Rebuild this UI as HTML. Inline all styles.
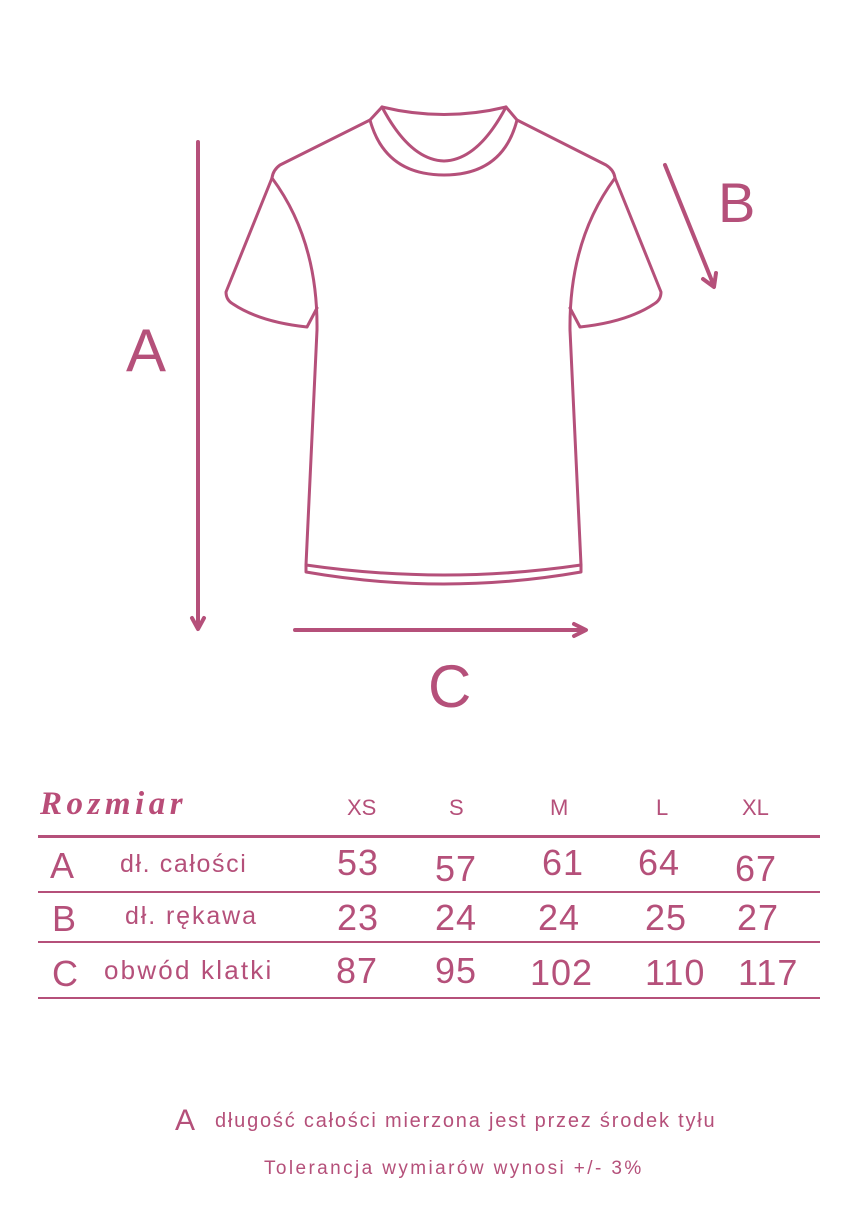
<!DOCTYPE html>
<html><head><meta charset="utf-8"><style>
body{margin:0;background:#fff;width:850px;height:1207px;overflow:hidden;position:relative;font-family:"Liberation Sans",sans-serif;color:#b5507a}
.t{position:absolute;white-space:nowrap}
.n{font-size:36px;letter-spacing:1px}
</style></head><body>
<svg width="850" height="1207" style="position:absolute;left:0;top:0" fill="none" stroke="#b5507a" stroke-width="3" stroke-linejoin="round" stroke-linecap="round">
<path d="M382,107 Q444,122 506,107"/>
<path d="M382,107 Q410,160 444,161 Q478,160 506,107"/>
<path d="M370,120 Q385,175 444,175 Q503,175 517,120"/>
<path d="M382,107 L370,120 L280,165 Q273,170 272,178 L226,292 Q226,300 233,304 Q260,322 307,327 L317,308"/>
<path d="M506,107 L517,120 L606,165 Q614,170 615,178 L661,292 Q661,300 654,304 Q627,322 580,327 L570,308"/>
<path d="M272,178 Q318,240 317,330 L306,565"/>
<path d="M615,178 Q569,240 570,330 L581,565"/>
<path d="M306,565 Q444,585 581,565 L581,572 Q444,596 306,572 Z"/>
<g stroke-width="4">
<path d="M198,142 L198,628 M192,618 L198,629 L204,618"/>
<path d="M295,630 L585,630 M574,624 L586,630 L574,636"/>
<path d="M665,165 L714,286 M703,279 L714,287 L716,273"/>
</g>
</svg>
<div class="t" style="left:126px;top:316px;font-size:60px">A</div>
<div class="t" style="left:718px;top:170px;font-size:56px">B</div>
<div class="t" style="left:428px;top:652px;font-size:60px">C</div>
<div class="t" style="left:40px;top:786px;font-family:'Liberation Serif',serif;font-style:italic;font-weight:bold;font-size:33px;letter-spacing:4.5px;color:#b94d78">Rozmiar</div>
<div class="t" style="left:347px;top:795px;font-size:22px">XS</div>
<div class="t" style="left:449px;top:795px;font-size:22px">S</div>
<div class="t" style="left:550px;top:795px;font-size:22px">M</div>
<div class="t" style="left:656px;top:795px;font-size:22px">L</div>
<div class="t" style="left:742px;top:795px;font-size:22px">XL</div>
<div style="position:absolute;left:38px;top:835px;width:782px;height:3px;background:#b5507a"></div>
<div style="position:absolute;left:38px;top:891px;width:782px;height:2px;background:#b5507a"></div>
<div style="position:absolute;left:38px;top:941px;width:782px;height:2px;background:#b5507a"></div>
<div style="position:absolute;left:38px;top:997px;width:782px;height:2px;background:#b5507a"></div>
<div class="t" style="left:50px;top:845px;font-size:36px">A</div>
<div class="t" style="left:120px;top:850px;font-size:25px;letter-spacing:1.6px">dł. całości</div>
<div class="t" style="left:52px;top:898px;font-size:36px">B</div>
<div class="t" style="left:125px;top:902px;font-size:25px;letter-spacing:1.9px">dł. rękawa</div>
<div class="t" style="left:52px;top:953px;font-size:36px">C</div>
<div class="t" style="left:104px;top:955px;font-size:26px;letter-spacing:2.2px">obwód klatki</div>
<div class="t n" style="left:337px;top:842px">53</div>
<div class="t n" style="left:435px;top:848px">57</div>
<div class="t n" style="left:542px;top:842px">61</div>
<div class="t n" style="left:638px;top:842px">64</div>
<div class="t n" style="left:735px;top:848px">67</div>
<div class="t n" style="left:337px;top:897px">23</div>
<div class="t n" style="left:435px;top:897px">24</div>
<div class="t n" style="left:538px;top:897px">24</div>
<div class="t n" style="left:645px;top:897px">25</div>
<div class="t n" style="left:737px;top:897px">27</div>
<div class="t n" style="left:336px;top:950px">87</div>
<div class="t n" style="left:435px;top:950px">95</div>
<div class="t n" style="left:530px;top:952px">102</div>
<div class="t n" style="left:645px;top:952px">110</div>
<div class="t n" style="left:738px;top:952px">117</div>
<div class="t" style="left:175px;top:1104px;font-size:30px">A</div>
<div class="t" style="left:215px;top:1110px;font-size:20px;letter-spacing:1.8px">długość całości mierzona jest przez środek tyłu</div>
<div class="t" style="left:264px;top:1158px;font-size:19px;letter-spacing:2.4px">Tolerancja wymiarów wynosi +/- 3%</div>
</body></html>
